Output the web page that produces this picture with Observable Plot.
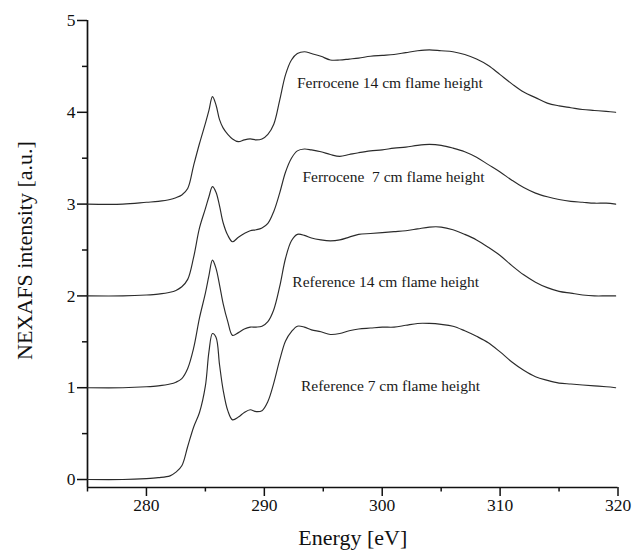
<!DOCTYPE html>
<html>
<head>
<meta charset="utf-8">
<script src="https://cdn.jsdelivr.net/npm/d3@7"></script>
<script src="https://cdn.jsdelivr.net/npm/@observablehq/plot@0.6"></script>
<style>
  html, body { margin: 0; padding: 0; background: #fff; }
  svg text { white-space: pre; font-family: 'Liberation Serif', 'Times New Roman', serif; }
</style>
</head>
<body>
<script>
// Photon energy grid (eV)
const energy = [275, 278, 280, 281, 282, 282.5, 283, 283.5, 284, 284.5, 285, 285.3, 285.6, 285.9, 286.2, 286.5, 286.9, 287.3, 287.8, 288.3, 288.8, 289.3, 289.8, 290.3, 290.8, 291.3, 291.8, 292.3, 292.8, 293.4, 294, 294.8, 295.6, 296.4, 297.2, 298, 299, 300, 301, 302, 303, 304, 305, 306, 307, 308, 309, 310, 311, 312, 313, 314, 315, 316, 317, 318, 319, 319.8];

// Displayed (offset) NEXAFS intensities
const reference7 = [0.0, 0.0, 0.01, 0.02, 0.04, 0.08, 0.15, 0.36, 0.57, 0.73, 1.02, 1.39, 1.59, 1.55, 1.25, 0.98, 0.75, 0.65, 0.68, 0.73, 0.76, 0.74, 0.75, 0.85, 1.05, 1.30, 1.51, 1.61, 1.67, 1.66, 1.63, 1.61, 1.58, 1.59, 1.62, 1.64, 1.65, 1.66, 1.66, 1.68, 1.70, 1.70, 1.69, 1.67, 1.62, 1.56, 1.49, 1.39, 1.28, 1.19, 1.12, 1.08, 1.05, 1.04, 1.03, 1.02, 1.01, 1.0];
const reference14 = [1.0, 1.0, 1.01, 1.02, 1.04, 1.06, 1.10, 1.21, 1.43, 1.76, 2.03, 2.22, 2.39, 2.30, 2.12, 1.92, 1.72, 1.57, 1.60, 1.64, 1.66, 1.66, 1.67, 1.72, 1.85, 2.10, 2.41, 2.60, 2.67, 2.66, 2.63, 2.61, 2.60, 2.61, 2.64, 2.67, 2.68, 2.69, 2.70, 2.71, 2.73, 2.75, 2.75, 2.72, 2.67, 2.61, 2.53, 2.44, 2.33, 2.23, 2.15, 2.09, 2.05, 2.03, 2.01, 2.0, 2.0, 2.0];
const ferrocene7 = [2.0, 2.0, 2.01, 2.02, 2.04, 2.06, 2.10, 2.18, 2.42, 2.74, 2.95, 3.08, 3.19, 3.13, 2.98, 2.80, 2.66, 2.59, 2.64, 2.68, 2.71, 2.72, 2.74, 2.79, 2.92, 3.12, 3.35, 3.50, 3.58, 3.60, 3.59, 3.57, 3.54, 3.52, 3.54, 3.56, 3.58, 3.59, 3.61, 3.62, 3.64, 3.65, 3.64, 3.61, 3.57, 3.51, 3.43, 3.35, 3.26, 3.18, 3.12, 3.08, 3.05, 3.03, 3.02, 3.01, 3.01, 3.0];
const ferrocene14 = [3.0, 3.0, 3.02, 3.03, 3.05, 3.07, 3.10, 3.17, 3.42, 3.66, 3.88, 4.02, 4.17, 4.08, 3.92, 3.83, 3.76, 3.71, 3.68, 3.70, 3.71, 3.70, 3.71, 3.76, 3.87, 4.13, 4.41, 4.57, 4.64, 4.66, 4.64, 4.61, 4.57, 4.57, 4.58, 4.59, 4.61, 4.62, 4.63, 4.65, 4.67, 4.68, 4.67, 4.66, 4.63, 4.58, 4.51, 4.41, 4.31, 4.22, 4.16, 4.10, 4.07, 4.05, 4.03, 4.02, 4.01, 4.0];

const seriesNames = ["Reference 7 cm", "Reference 14 cm", "Ferrocene 7 cm", "Ferrocene 14 cm"];
const seriesValues = [reference7, reference14, ferrocene7, ferrocene14];

// In-plot annotations
const annotationText = ["Reference 7 cm flame height", "Reference 14 cm flame height", "Ferrocene  7 cm flame height", "Ferrocene 14 cm flame height"];
const annotationX = [300.7, 300.3, 300.95, 300.65];
const annotationY = [1.02, 2.15, 3.29, 4.32];

// Axis ticks
const xTicks = [280, 290, 300, 310, 320];
const xMinorTicks = [275, 285, 295, 305, 315];
const yTicks = [0, 1, 2, 3, 4, 5];
const yMinorTicks = [0.5, 1.5, 2.5, 3.5, 4.5];
const xDomain = [275, 320];
const yDomain = [-0.087, 5];
const xTitle = "Energy [eV]";
const yTitle = "NEXAFS intensity [a.u.]";

const rows = seriesNames.flatMap((name, i) =>
  energy.map((e, j) => ({series: name, energy: e, value: seriesValues[i][j]}))
);
const notes = annotationText.map((t, i) => ({text: t, x: annotationX[i], y: annotationY[i]}));

const serif = "'Liberation Serif', 'Times New Roman', serif";
const chart = Plot.plot({
  width: 636,
  height: 560,
  marginLeft: 87,
  marginRight: 18.5,
  marginTop: 20,
  marginBottom: 73,
  x: {domain: xDomain},
  y: {domain: yDomain},
  style: {fontFamily: serif, fontSize: "17.5px", color: "#111", background: "#fff"},
  marks: [
    Plot.axisX({ticks: xTicks, tickSize: 9, tickPadding: 2, tickFormat: d => String(d), label: null, fontSize: 17.5, fontFamily: serif, strokeWidth: 1.5}),
    Plot.axisX({ticks: xMinorTicks, tickSize: 4.5, tickFormat: () => "", label: null, strokeWidth: 1.5}),
    Plot.axisY({ticks: yTicks, tickSize: 10, tickPadding: 2, tickFormat: d => String(d), label: null, fontSize: 17.5, fontFamily: serif, strokeWidth: 1.5}),
    Plot.axisY({ticks: yMinorTicks, tickSize: 5, tickFormat: () => "", label: null, strokeWidth: 1.5}),
    Plot.ruleX([xDomain[0]], {y1: yDomain[0], y2: yDomain[1], stroke: "#111", strokeWidth: 1.7}),
    Plot.ruleY([yDomain[0]], {x1: xDomain[0], x2: xDomain[1], stroke: "#111", strokeWidth: 1.7}),
    Plot.line(rows, {x: "energy", y: "value", z: "series", curve: "catmull-rom", stroke: "#2b2b2b", strokeWidth: 1.15}),
    Plot.text(notes, {x: "x", y: "y", text: "text", fontSize: 15.5, fontFamily: serif, fill: "#1a1a1a"}),
    Plot.text([xTitle], {frameAnchor: "bottom", textAnchor: "middle", dy: 57, fontSize: 22, fontFamily: serif, fill: "#111"}),
    Plot.text([yTitle], {frameAnchor: "left", textAnchor: "middle", rotate: -90, dx: -63, dy: -3.5, fontSize: 22, fontFamily: serif, fill: "#111"})
  ]
});
document.body.appendChild(chart);
</script>
</body>
</html>
